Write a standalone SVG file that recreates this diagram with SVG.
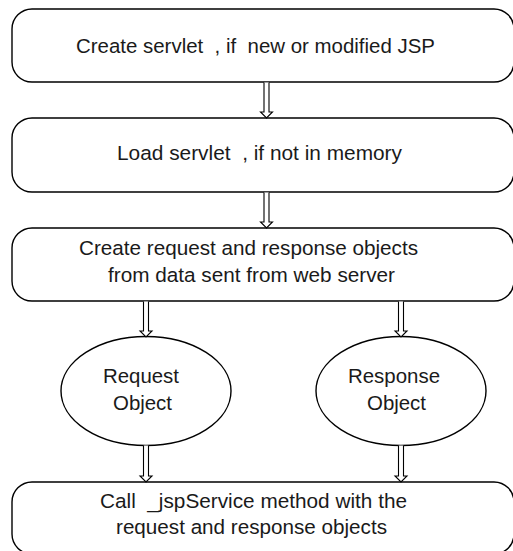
<svg xmlns="http://www.w3.org/2000/svg" width="513" height="551" viewBox="0 0 513 551">
<style>
.box{fill:#fff;stroke:#000;stroke-width:1.4}
.t{font-family:"Liberation Sans",Arial,sans-serif;font-size:20.5px;fill:#1a1a1a;text-anchor:middle;white-space:pre}
.arr{fill:#fff;stroke:#000;stroke-width:1.1;stroke-linejoin:miter}
</style>
<rect width="513" height="551" fill="#fff"/>
<g id="n1"><rect class="box" x="12" y="9" width="502" height="73" rx="20" ry="20"/><text class="t" xml:space="preserve" x="255.5" y="53" textLength="359" lengthAdjust="spacingAndGlyphs">Create servlet  , if  new or modified JSP</text></g>
<g id="n2"><rect class="box" x="12" y="118" width="502" height="74" rx="20" ry="20"/><text class="t" xml:space="preserve" x="259.5" y="160" textLength="285" lengthAdjust="spacingAndGlyphs">Load servlet  , if not in memory</text></g>
<g id="n3"><rect class="box" x="12" y="228" width="502" height="73" rx="20" ry="20"/><text class="t" x="248.5" y="255" textLength="339" lengthAdjust="spacingAndGlyphs">Create request and response objects</text><text class="t" x="251.5" y="282" textLength="287" lengthAdjust="spacingAndGlyphs">from data sent from web server</text></g>
<g id="n4"><ellipse class="box" cx="146" cy="391" rx="85" ry="54.5"/><text class="t" x="141" y="383" textLength="76" lengthAdjust="spacingAndGlyphs">Request</text><text class="t" x="142.5" y="410" textLength="59" lengthAdjust="spacingAndGlyphs">Object</text></g>
<g id="n5"><ellipse class="box" cx="401" cy="391" rx="85" ry="54.5"/><text class="t" x="394" y="383" textLength="92" lengthAdjust="spacingAndGlyphs">Response</text><text class="t" x="396.5" y="410" textLength="59" lengthAdjust="spacingAndGlyphs">Object</text></g>
<g id="n6"><rect class="box" x="12" y="482" width="502" height="72" rx="20" ry="20"/><text class="t" xml:space="preserve" x="253.5" y="508" textLength="307" lengthAdjust="spacingAndGlyphs">Call  _jspService method with the</text><text class="t" x="251.5" y="534" textLength="271" lengthAdjust="spacingAndGlyphs">request and response objects</text></g>
<g id="connectors">
<path class="arr" d="M264,82.5 V112 H260.5 L266.5,118 L272.5,112 H269 V82.5"/>
<path class="arr" d="M264,192.5 V222 H260.5 L266.5,228 L272.5,222 H269 V192.5"/>
<path class="arr" d="M143.5,301.5 V331 H140 L146,337 L152,331 H148.5 V301.5"/>
<path class="arr" d="M398.5,301.5 V331 H395 L401,337 L407,331 H403.5 V301.5"/>
<path class="arr" d="M143.5,445.5 V476 H140 L146,482 L152,476 H148.5 V445.5"/>
<path class="arr" d="M398.5,445.5 V476 H395 L401,482 L407,476 H403.5 V445.5"/>
</g>
</svg>
